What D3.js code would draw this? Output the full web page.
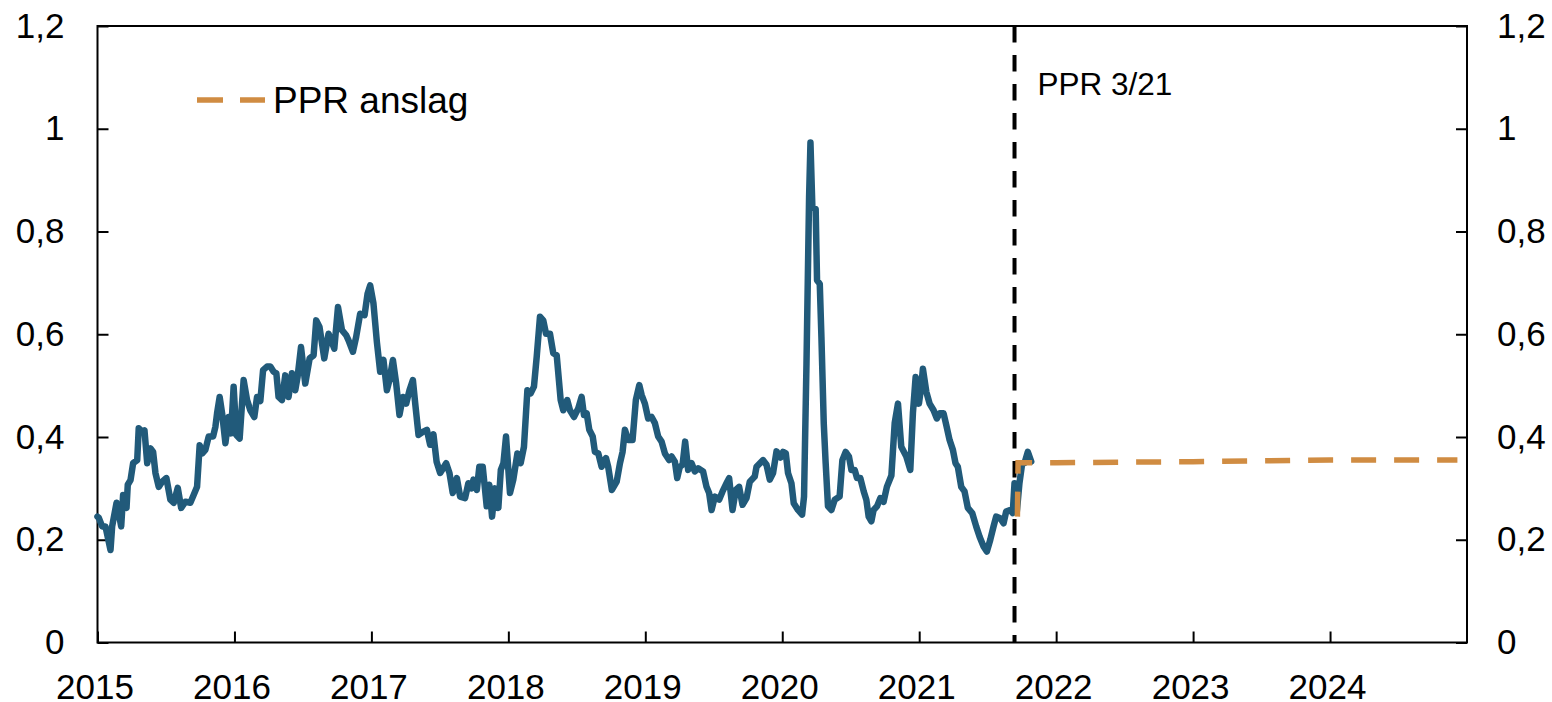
<!DOCTYPE html>
<html><head><meta charset="utf-8">
<script src="https://cdn.jsdelivr.net/npm/d3@7"></script>
<style>
body{margin:0;background:#fff}
svg{display:block}
text{font-family:"Liberation Sans",Arial,sans-serif;fill:#000}
</style>
</head><body><svg id="c" width="1552" height="702"></svg>
<script>
// ---- data ----
const yearTicks = [2015,2016,2017,2018,2019,2020,2021,2022,2023,2024];
const valueTicks = [0,0.2,0.4,0.6,0.8,1.0,1.2];
const histSeries = [
[2015.000,.245],[2015.009,.243],[2015.034,.226],[2015.058,.226],[2015.095,.18],[2015.107,.226],[2015.139,.272],[2015.155,.252],[2015.173,.226],[2015.187,.287],[2015.212,.262],[2015.221,.307],[2015.241,.316],[2015.260,.349],[2015.290,.355],[2015.301,.417],[2015.326,.41],[2015.343,.413],[2015.363,.349],[2015.387,.378],[2015.406,.371],[2015.423,.33],[2015.447,.303],[2015.472,.313],[2015.503,.32],[2015.532,.278],[2015.557,.272],[2015.586,.301],[2015.611,.262],[2015.642,.274],[2015.678,.272],[2015.702,.287],[2015.727,.303],[2015.746,.384],[2015.764,.368],[2015.788,.375],[2015.812,.401],[2015.844,.401],[2015.861,.42],[2015.873,.446],[2015.892,.478],[2015.910,.446],[2015.934,.388],[2015.958,.439],[2015.975,.407],[2015.994,.498],[2016.014,.404],[2016.038,.397],[2016.067,.511],[2016.092,.472],[2016.116,.452],[2016.145,.439],[2016.165,.478],[2016.189,.47],
[2016.209,.53],[2016.238,.537],[2016.262,.537],[2016.286,.527],[2016.306,.524],[2016.322,.478],[2016.347,.472],[2016.371,.52],[2016.395,.478],[2016.420,.524],[2016.444,.491],[2016.461,.517],[2016.486,.575],[2016.517,.504],[2016.549,.553],[2016.578,.559],[2016.597,.627],[2016.621,.614],[2016.656,.553],[2016.687,.601],[2016.729,.572],[2016.756,.653],[2016.785,.608],[2016.816,.598],[2016.833,.588],[2016.865,.566],[2016.889,.595],[2016.918,.64],[2016.950,.637],[2016.972,.679],[2016.991,.695],
[2017.015,.66],[2017.040,.585],[2017.064,.527],[2017.088,.55],[2017.113,.491],[2017.132,.511],[2017.157,.55],[2017.181,.504],[2017.205,.443],[2017.230,.478],[2017.254,.465],[2017.278,.491],[2017.303,.511],[2017.320,.465],[2017.344,.404],[2017.376,.41],[2017.405,.414],[2017.429,.385],[2017.453,.405],[2017.476,.352],[2017.502,.33],[2017.546,.349],[2017.570,.33],[2017.594,.291],[2017.624,.32],[2017.648,.284],[2017.684,.281],[2017.708,.31],[2017.733,.3],[2017.745,.317],[2017.770,.297],[2017.788,.342],[2017.813,.342],[2017.842,.265],[2017.861,.307],[2017.881,.245],[2017.903,.3],[2017.927,.262],[2017.945,.336],[2017.964,.349],[2017.983,.401],
[2018.012,.291],[2018.036,.317],[2018.066,.368],[2018.090,.349],[2018.114,.381],[2018.139,.491],[2018.163,.485],[2018.187,.498],[2018.207,.556],[2018.231,.634],[2018.255,.627],[2018.275,.601],[2018.304,.601],[2018.328,.563],[2018.353,.559],[2018.382,.472],[2018.401,.452],[2018.430,.472],[2018.450,.452],[2018.479,.439],[2018.511,.456],[2018.535,.478],[2018.552,.443],[2018.572,.446],[2018.591,.414],[2018.616,.401],[2018.632,.371],[2018.657,.368],[2018.681,.342],[2018.713,.359],[2018.729,.342],[2018.756,.297],[2018.791,.313],[2018.815,.349],[2018.834,.371],[2018.851,.414],[2018.875,.394],[2018.907,.394],[2018.931,.472],[2018.956,.501],[2018.973,.482],[2018.997,.465],
[2019.021,.436],[2019.046,.439],[2019.070,.427],[2019.094,.401],[2019.119,.391],[2019.143,.368],[2019.174,.355],[2019.192,.362],[2019.216,.352],[2019.233,.32],[2019.252,.342],[2019.272,.346],[2019.291,.391],[2019.313,.336],[2019.338,.349],[2019.362,.333],[2019.386,.339],[2019.422,.333],[2019.447,.303],[2019.466,.291],[2019.484,.258],[2019.508,.284],[2019.539,.278],[2019.564,.294],[2019.593,.31],[2019.612,.32],[2019.637,.258],[2019.661,.297],[2019.685,.303],[2019.710,.268],[2019.739,.281],[2019.763,.313],[2019.799,.323],[2019.812,.342],[2019.860,.355],[2019.885,.346],[2019.909,.317],[2019.933,.33],[2019.958,.372],[2019.987,.36],
[2020.006,.371],[2020.026,.368],[2020.042,.33],[2020.067,.31],[2020.084,.271],[2020.115,.258],[2020.145,.249],[2020.159,.284],[2020.177,.543],[2020.196,.867],[2020.206,.973],[2020.220,.847],[2020.244,.844],[2020.254,.705],[2020.274,.698],[2020.286,.595],[2020.303,.427],[2020.317,.349],[2020.334,.265],[2020.359,.258],[2020.383,.278],[2020.419,.284],[2020.439,.355],[2020.463,.371],[2020.487,.362],[2020.505,.336],[2020.529,.336],[2020.546,.32],[2020.570,.32],[2020.595,.294],[2020.614,.278],[2020.631,.245],[2020.651,.236],[2020.667,.258],[2020.692,.265],[2020.716,.281],[2020.740,.274],[2020.764,.303],[2020.797,.325],[2020.821,.427],[2020.845,.465],[2020.869,.381],[2020.906,.362],[2020.935,.336],[2020.954,.446],[2020.974,.517],[2020.998,.465],
[2021.015,.498],[2021.027,.533],[2021.052,.488],[2021.076,.465],[2021.105,.452],[2021.129,.436],[2021.149,.446],[2021.178,.446],[2021.198,.423],[2021.222,.394],[2021.246,.375],[2021.265,.349],[2021.282,.342],[2021.307,.303],[2021.331,.294],[2021.355,.262],[2021.387,.252],[2021.416,.226],[2021.441,.206],[2021.470,.187],[2021.494,.177],[2021.519,.2],[2021.543,.226],[2021.562,.245],[2021.592,.242],[2021.616,.232],[2021.635,.255],[2021.664,.258],[2021.683,.252],[2021.696,.31],[2021.713,.255],[2021.732,.31],[2021.752,.349],[2021.769,.349],[2021.793,.371],[2021.818,.352]
];
const forecastSeries = [[2021.717,.245],[2021.722,.35],[2022.0,.35],[2023.0,.352],[2024.0,.355],[2024.93,.355]];
const pprDate = 2021.696;
const pprLabel = "PPR 3/21";
const legendLabel = "PPR anslag";

// ---- layout ----
const L = 97.5, R = 1467, T = 26, B = 642.5;
const blue = "#215a7a", orange = "#d08c42";
const fmt = d => String(+d.toFixed(1)).replace(".", ",");

const svg = d3.select("#c");
const x = d3.scaleLinear().domain([2015, 2025]).range([L, R]);
const y = d3.scaleLinear().domain([0, 1.2]).range([B, T]);

// frame
svg.append("rect").attr("x", L).attr("y", T).attr("width", R - L).attr("height", B - T)
  .attr("fill", "none").attr("stroke", "#000").attr("stroke-width", 2);

function styleAxis(g) {
  g.select(".domain").remove();
  g.selectAll("line").attr("stroke", "#000").attr("stroke-width", 2);
  g.selectAll("text").attr("font-size", 35).attr("font-family", '"Liberation Sans", Arial, sans-serif').attr("fill", "#000");
}

svg.append("g").attr("transform", `translate(${L},0)`)
  .call(d3.axisLeft(y).tickValues(valueTicks).tickFormat(fmt).tickSizeInner(-11).tickSizeOuter(0).tickPadding(33))
  .call(styleAxis);
svg.append("g").attr("transform", `translate(${R},0)`)
  .call(d3.axisRight(y).tickValues(valueTicks).tickFormat(fmt).tickSizeInner(-11).tickSizeOuter(0).tickPadding(30))
  .call(styleAxis);
svg.append("g").attr("transform", `translate(0,${B})`)
  .call(d3.axisBottom(x).tickValues(yearTicks).tickFormat(d3.format("d")).tickSizeInner(-11).tickSizeOuter(0).tickPadding(32))
  .call(styleAxis)
  .call(g => g.selectAll("text").attr("dx", -3));

// PPR vertical marker
svg.append("line").attr("x1", x(pprDate)).attr("x2", x(pprDate)).attr("y1", T).attr("y2", B)
  .attr("stroke", "#000").attr("stroke-width", 4).attr("stroke-dasharray", "16.5,12.5");
svg.append("text").attr("x", x(pprDate) + 23).attr("y", 95).attr("font-size", 31.5).text(pprLabel);

const line = d3.line().x(d => x(d[0])).y(d => y(d[1]));

svg.append("path").datum(histSeries).attr("d", line)
  .attr("fill", "none").attr("stroke", blue).attr("stroke-width", 6.5)
  .attr("stroke-linejoin", "round").attr("stroke-linecap", "round");

svg.append("path").datum(forecastSeries).attr("d", line)
  .attr("fill", "none").attr("stroke", orange).attr("stroke-width", 5.5)
  .attr("stroke-dasharray", "25,18");

// legend
svg.append("line").attr("x1", 197).attr("x2", 265).attr("y1", 100).attr("y2", 100)
  .attr("stroke", orange).attr("stroke-width", 5.5).attr("stroke-dasharray", "26,17");
svg.append("text").attr("x", 273).attr("y", 113).attr("font-size", 37).text(legendLabel);
</script>
</body></html>
